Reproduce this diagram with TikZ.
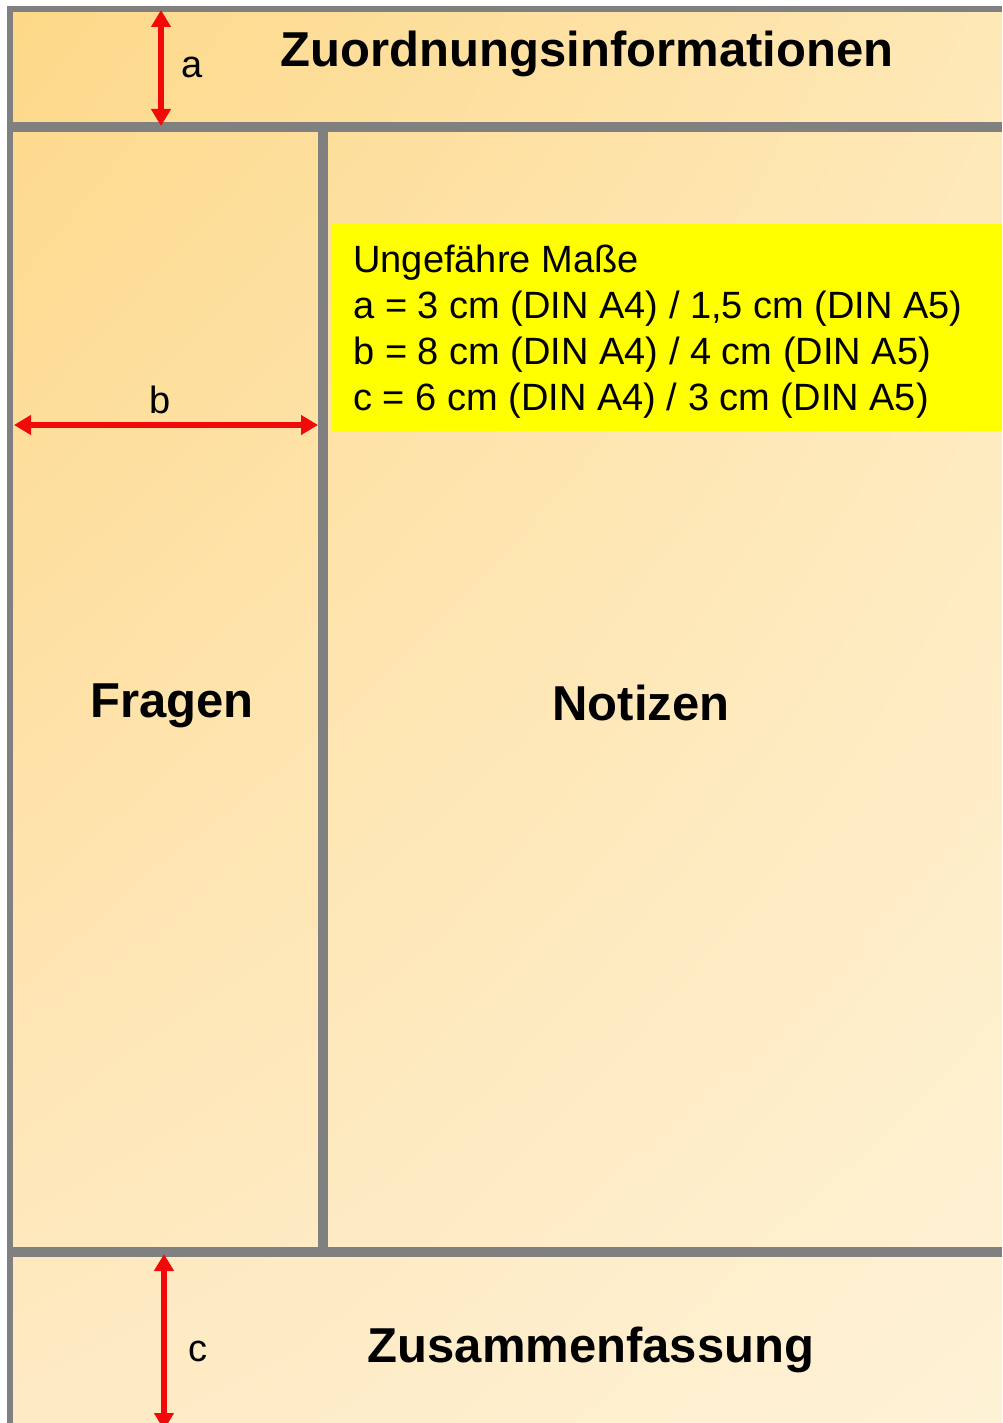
\documentclass[tikz,border=0pt]{standalone}
\usepackage{fontspec}
\setmainfont{Liberation Sans}
\usetikzlibrary{arrows.meta,shadings}
\definecolor{bgTL}{RGB}{253,216,136}
\definecolor{bgTR}{RGB}{254,232,182}
\definecolor{bgBL}{RGB}{254,234,196}
\definecolor{bgBR}{RGB}{254,242,214}
\definecolor{lineGray}{RGB}{128,128,128}
\definecolor{dimRed}{RGB}{240,10,10}
\definecolor{noteYellow}{RGB}{255,255,0}
\tikzset{
  outerline/.style={draw=lineGray, line width=3pt},
  innerline/.style={draw=lineGray, line width=5pt},
  dimarrow/.style={draw=dimRed, line width=2.8pt, {Triangle[length=8.5pt,width=9.5pt]}-{Triangle[length=8.5pt,width=9.5pt]}},
  title/.style={font=\fontsize{24.5}{28}\selectfont\bfseries, inner sep=0pt, anchor=base},
  dimlabel/.style={font=\fontsize{19}{23}\selectfont, inner sep=0pt, anchor=base},
  boxtext/.style={font=\fontsize{19}{23}\selectfont, inner sep=0pt, anchor=base west},
}
\begin{document}
\begin{tikzpicture}[x=0.5pt,y=-0.5pt]
\useasboundingbox (0,0) rectangle (1002,1423);
\fill[white] (0,0) rectangle (1002,1423);
\shade[upper left=bgTL, upper right=bgTR, lower left=bgBL, lower right=bgBR] (9,9) rectangle (1002,1423);
% yellow note
\fill[noteYellow] (332,224) rectangle (1002,431);
% frame lines
\draw[outerline] (7,9) -- (1002,9);
\draw[outerline] (9.5,6) -- (9.5,1423);
\draw[innerline] (9,127) -- (1002,127);
\draw[innerline] (9,1252) -- (1002,1252);
\draw[innerline] (323,127) -- (323,1252);
% titles
\node[title] (zuord) at (587,67) {Zuordnungsinformationen};
\node[title] (fragen) at (172,717) {Fragen};
\node[title] (notizen) at (641,720) {Notizen};
\node[title] (zusam) at (591,1362) {Zusammenfassung};
% note text
\node[boxtext] (m0) at (353,272) {Ungefähre Maße};
\node[boxtext] (m1) at (353,318) {a = 3 cm (DIN A4) / 1,5 cm (DIN A5)};
\node[boxtext] (m2) at (353,364) {b = 8 cm (DIN A4) / 4 cm (DIN A5)};
\node[boxtext] (m3) at (353,410) {c = 6 cm (DIN A4) / 3 cm (DIN A5)};
% dimension arrows
\coordinate (aT) at (161,10);
\coordinate (aB) at (161,126);
\coordinate (bL) at (14,425);
\coordinate (bR) at (318,425);
\coordinate (cT) at (164,1254);
\coordinate (cB) at (164,1430);
\draw[dimarrow] (aT) -- (aB);
\draw[dimarrow] (bL) -- (bR);
\draw[dimarrow] (cT) -- (cB);
\node[dimlabel] (la) at (192,78) {a};
\node[dimlabel] (lb) at (160,413) {b};
\node[dimlabel] (lc) at (198,1361) {c};
\end{tikzpicture}
\end{document}
